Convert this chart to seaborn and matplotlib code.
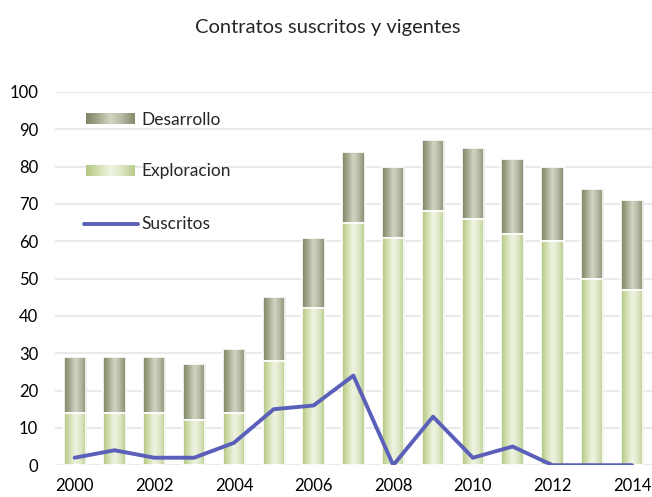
import numpy as np
import pandas as pd
import matplotlib
matplotlib.use('Agg')
import matplotlib.pyplot as plt
import seaborn as sns
from matplotlib.colors import LinearSegmentedColormap

# data
years = [2000, 2001, 2002, 2003, 2004, 2005, 2006, 2007, 2008, 2009, 2010, 2011, 2012, 2013, 2014]
exploracion = [14, 14, 14, 12, 14, 28, 42, 65, 61, 68, 66, 62, 60, 50, 47]
desarrollo = [15, 15, 15, 15, 17, 17, 19, 19, 19, 19, 19, 20, 20, 24, 24]
suscritos = [2, 4, 2, 2, 6, 15, 16, 24, 0, 13, 2, 5, 0, 0, 0]
tick_years = ['2000', '', '2002', '', '2004', '', '2006', '', '2008', '', '2010', '', '2012', '', '2014']

df = pd.DataFrame({'year': years, 'exploracion': exploracion,
                   'desarrollo': desarrollo, 'suscritos': suscritos})
df['total'] = df['exploracion'] + df['desarrollo']

sns.set_style('white')
plt.rcParams['font.family'] = ['Lato', 'DejaVu Sans']

# horizontal gradients: darker edges, light centre
cm_des = LinearSegmentedColormap.from_list('des', ['#7f8566', '#a5a98e', '#d3d5c4', '#b4b7a0', '#858a6c'])
cm_exp = LinearSegmentedColormap.from_list('exp', ['#b3c682', '#d3e0b0', '#f0f4e4', '#dce6c4', '#b9cb8b'])
grad = np.linspace(0, 1, 64).reshape(1, -1)

fig = plt.figure(figsize=(6.52, 4.97), dpi=100)
ax = fig.add_axes([0.084, 0.064, 0.916, 0.751])

sns.barplot(data=df, x='year', y='total', color='#a5a98e', width=0.56,
            edgecolor='white', linewidth=1.2, ax=ax, zorder=2)
sns.barplot(data=df, x='year', y='exploracion', color='#d3e0b0', width=0.56,
            edgecolor='white', linewidth=1.2, ax=ax, zorder=3)

n = len(years)
for i, p in enumerate(ax.patches):
    cmap = cm_des if i < n else cm_exp
    x0, y0 = p.get_x(), p.get_y()
    w, h = p.get_width(), p.get_height()
    im = ax.imshow(grad, cmap=cmap, aspect='auto', extent=[x0, x0 + w, y0, y0 + h],
                   zorder=p.get_zorder() + 0.1, interpolation='bicubic')
    im.set_clip_path(p)
    # white separator edge on top
    ax.add_patch(plt.Rectangle((x0, y0), w, h, fill=False, edgecolor='white',
                               linewidth=1.2, zorder=p.get_zorder() + 0.2))

sns.lineplot(x=np.arange(n), y=df['suscritos'], color='#5a5fb9', linewidth=2.8,
             ax=ax, zorder=6)

ax.set_yticks(range(0, 101, 10))
ax.set_xticks(range(n))
ax.set_xticklabels(tick_years)
ax.tick_params(axis='both', labelsize=12, length=0, colors='black')
ax.tick_params(axis='x', pad=9)
ax.tick_params(axis='y', pad=12)
ax.set_xlabel('')
ax.set_ylabel('')
ax.yaxis.grid(True, color='#eaeaea', linewidth=1.5, zorder=0)
ax.set_axisbelow(True)
for s in ax.spines.values():
    s.set_visible(False)

# legend drawn inside the plot
ax.imshow(grad, cmap=cm_des, aspect='auto', extent=[0.28, 1.5, 91.3, 94.0], zorder=7)
ax.text(1.68, 92.6, 'Desarrollo', fontsize=12.5, va='center', zorder=7)
ax.imshow(grad, cmap=cm_exp, aspect='auto', extent=[0.28, 1.5, 77.4, 80.1], zorder=7)
ax.text(1.68, 78.7, 'Exploracion', fontsize=12.5, va='center', zorder=7)
ax.plot([0.23, 1.6], [64.6, 64.6], color='#5a5fb9', linewidth=2.8, zorder=7)
ax.text(1.68, 64.6, 'Suscritos', fontsize=12.5, va='center', zorder=7)
ax.set_xlim(-0.5, n - 0.5)
ax.set_ylim(0, 100)

fig.text(0.502, 0.944, 'Contratos suscritos y vigentes', fontsize=14.5, ha='center', va='center')

fig.savefig('out.png', dpi=100)
